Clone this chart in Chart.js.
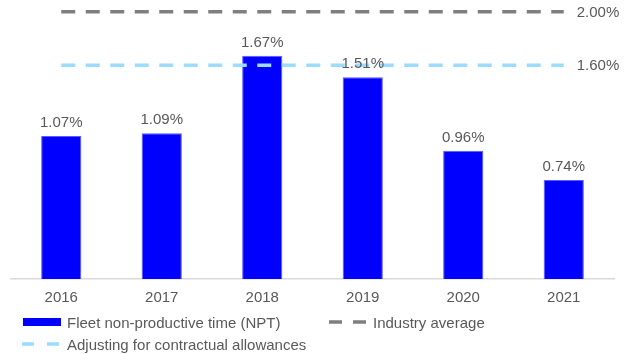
<!DOCTYPE html>
<html>
<head>
<meta charset="utf-8">
<script src="https://cdn.jsdelivr.net/npm/chart.js@4.4.1/dist/chart.umd.min.js"></script>
<style>
  html, body { margin: 0; padding: 0; background: #fff; }
  #wrap { position: relative; width: 636px; height: 354px; font-family: "Liberation Sans", Arial, sans-serif; font-size: 15px; color: #595959; }
  #npt-chart { position: absolute; left: 0; top: 0; }
  .legend-item { position: absolute; display: flex; align-items: center; white-space: nowrap; height: 18px; }
  .legend-item svg { margin-right: 6px; }
</style>
</head>
<body>
<div id="wrap">
  <canvas id="npt-chart" width="636" height="354"></canvas>
  <div class="legend-item" style="left:23px; top:313px;">
    <svg width="38" height="18"><rect x="0" y="5" width="38" height="8" fill="#0000ff"></rect></svg>Fleet non-productive time (NPT)
  </div>
  <div class="legend-item" style="left:329px; top:313px;">
    <svg width="38" height="18"><line x1="0" y1="9" x2="38" y2="9" stroke="#7f7f7f" stroke-width="3.5" stroke-dasharray="13 11"></line></svg>Industry average
  </div>
  <div class="legend-item" style="left:22px; top:335px;">
    <svg width="39" height="18"><line x1="0" y1="9" x2="39" y2="9" stroke="#9bdcff" stroke-width="3.5" stroke-dasharray="12 13"></line></svg>Adjusting for contractual allowances
  </div>
</div>
<script>
// years and yearly NPT (%)
const years = ['2016', '2017', '2018', '2019', '2020', '2021'];
const nptValues = [1.07, 1.09, 1.67, 1.51, 0.96, 0.74];
// reference levels (%)
const industryAvg = 2.00;
const adjustedAvg = 1.60;

const textColor = '#595959';
const fontFamily = '"Liberation Sans", Arial, sans-serif';

Chart.defaults.font.family = fontFamily;
Chart.defaults.font.size = 15;
Chart.defaults.color = textColor;

// value above each bar, and the level label at the end of each dashed line
const labelPlugin = {
    id: 'labelPlugin',
    afterDatasetsDraw(chart) {
        const ctx = chart.ctx;
        ctx.save();
        ctx.font = '15px ' + fontFamily;
        ctx.fillStyle = textColor;

        const barMeta = chart.getDatasetMeta(0);
        ctx.textAlign = 'center';
        ctx.textBaseline = 'middle';
        barMeta.data.forEach((bar, i) => {
            ctx.fillText(nptValues[i].toFixed(2) + '%', bar.x, bar.y - 13);
        });

        ctx.textAlign = 'left';
        [1, 2].forEach(idx => {
            const meta = chart.getDatasetMeta(idx);
            const last = meta.data[meta.data.length - 1];
            const v = chart.data.datasets[idx].data[0];
            ctx.fillText(v.toFixed(2) + '%', last.x + 13, last.y + 1);
        });
        ctx.restore();
    }
};

new Chart(document.getElementById('npt-chart').getContext('2d'), {
    data: {
        labels: years,
        datasets: [
            {
                type: 'bar',
                label: 'Fleet non-productive time (NPT)',
                data: nptValues,
                backgroundColor: '#0000ff',
                borderColor: '#5a5aff',
                borderWidth: 1,
                barPercentage: 0.4,
                categoryPercentage: 1,
                order: 2
            },
            {
                type: 'line',
                label: 'Industry average',
                data: years.map(() => industryAvg),
                borderColor: '#7f7f7f',
                borderWidth: 3.5,
                borderDash: [14, 10.5],
                pointRadius: 0,
                fill: false,
                order: 0
            },
            {
                type: 'line',
                label: 'Adjusting for contractual allowances',
                data: years.map(() => adjustedAvg),
                borderColor: '#9bdcff',
                borderWidth: 3.5,
                borderDash: [14, 10.5],
                pointRadius: 0,
                fill: false,
                order: 1
            }
        ]
    },
    options: {
        responsive: false,
        animation: false,
        layout: { padding: { top: 5, left: 11, right: 22, bottom: 37 } },
        plugins: {
            legend: { display: false },
            tooltip: { enabled: false }
        },
        scales: {
            x: {
                grid: { display: false, drawTicks: false },
                border: { display: true, color: '#d9d9d9', width: 1.5 },
                ticks: { padding: 10, color: textColor, font: { size: 15 } }
            },
            y: {
                display: false,
                min: 0,
                max: 2.05
            }
        }
    },
    plugins: [labelPlugin]
});
</script>
</body>
</html>
